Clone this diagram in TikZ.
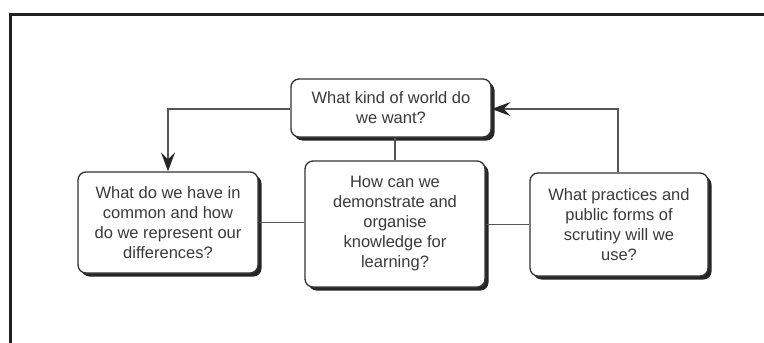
\documentclass[tikz,border=0pt]{standalone}
\usepackage{fontspec}
\setmainfont{Liberation Sans}
\usetikzlibrary{arrows.meta,shadows}
\definecolor{boxline}{HTML}{333333}
\definecolor{txt}{HTML}{3A3A3A}
\definecolor{conn}{HTML}{555555}
\tikzset{
  qbox/.style={draw=boxline, line width=1.3pt, rounded corners=8pt, fill=white,
    align=center, text=txt, inner sep=0pt,
    font=\fontsize{16.5}{20}\selectfont,
    drop shadow={shadow xshift=3.5pt, shadow yshift=-3.5pt, fill=black!85, opacity=1}},
  link/.style={draw=conn, line width=1.1pt},
  arr/.style={link, -{Stealth[length=19pt, width=14pt, inset=7pt, color=black!85]}},
}
\begin{document}
\begin{tikzpicture}[x=1pt, y=-1pt]
\useasboundingbox (0,0) rectangle (764,343);
\fill[white] (0,0) rectangle (764,343);
% frame
\draw[line width=3pt, draw=black!87] (10.5,343) -- (10.5,14.5) -- (764,14.5);
% nodes
\node[qbox, minimum width=200pt, minimum height=58pt] (top) at (391,108)
  {What kind of world do\\we want?};
\node[qbox, minimum width=180pt, minimum height=101pt] (left) at (168,222.5)
  {What do we have in\\common and how\\do we represent our\\differences?};
\node[qbox, minimum width=180pt, minimum height=126pt] (mid) at (395,224)
  {How can we\\demonstrate and\\organise\\knowledge for\\learning?};
\node[qbox, minimum width=178pt, minimum height=103pt] (right) at (619,224.5)
  {What practices and\\public forms of\\scrutiny will we\\use?};
% connectors
\draw[arr] (top.west |- 0,109) -| (left.north);
\draw[arr] (right.north -| 618,0) |- (top.east |- 0,109);
\draw[link] (top.south -| 395,0) -- (mid.north);
\draw[link] (left.east) -- (mid.west |- left.east);
\draw[link] (mid.east |- right.west) -- (right.west);
\end{tikzpicture}
\end{document}
